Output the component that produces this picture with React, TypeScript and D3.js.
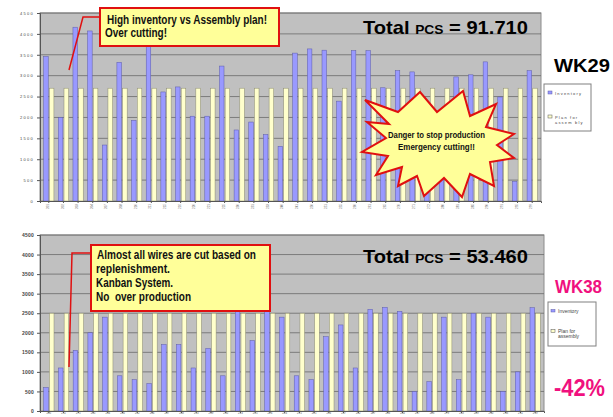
import React, { useRef, useEffect } from "react";
import * as d3 from "d3";

const FONT = "'Liberation Sans', Arial, sans-serif";

// WK29 - part numbers (unreadable in source, short codes)
const categoriesWk29 = [
  "201", "202", "203", "204", "207", "208", "210", "211", "215", "216",
  "220", "221", "225", "230", "231", "233", "240", "241", "250", "251",
  "255", "260", "261", "265", "270", "271", "272", "280", "281", "285",
  "290", "291", "295", "299",
];
const inventoryWk29 = [
  3460, 2000, 4160, 4070, 1340, 3320, 1930, 3750, 2610, 2730,
  2030, 2030, 3230, 1700, 1890, 1590, 1310, 3540, 3640, 3610,
  2390, 3600, 3600, 2710, 3120, 3090, 2040, 1840, 2970, 3020,
  3330, 2490, 470, 3120,
];
const planWk29 = [
  2700, 2700, 2700, 2700, 2700, 2700, 2700, 2700, 2700, 2700,
  2700, 2700, 2700, 2700, 2700, 2700, 2700, 2700, 2700, 2700,
  2700, 2700, 2700, 2700, 2700, 2700, 2700, 2700, 2700, 2700,
  2700, 2700, 2700, 2700,
];

// WK38
const categoriesWk38 = [
  "285", "211", "275", "235", "214", "286", "212", "236", "287", "288",
  "213", "289", "280", "223", "225", "226", "224", "215", "281", "216",
  "237", "282", "227", "283", "284", "217", "228", "279", "218", "229",
  "230", "238", "231", "219",
];
const inventoryWk38 = [
  600, 1100, 1550, 2000, 2400, 900, 800, 700, 1700, 1700,
  1100, 1600, 900, 2650, 1800, 2700, 2400, 900, 800, 1900,
  2200, 1100, 2600, 2650, 2550, 500, 750, 2400, 800, 2500,
  2400, 500, 1000, 2640,
];
const planWk38 = [
  2500, 2500, 2500, 2500, 2500, 2500, 2500, 2500, 2500, 2500,
  2500, 2500, 2500, 2500, 2500, 2500, 2500, 2500, 2500, 2500,
  2500, 2500, 2500, 2500, 2500, 2500, 2500, 2500, 2500, 2500,
  2500, 2500, 2500, 2500,
];

const yTicks = [0, 500, 1000, 1500, 2000, 2500, 3000, 3500, 4000, 4500];
const seriesNames = ["Inventory", "Plan for assembly"];
const seriesColors = ["#9999ff", "#ffffcc"];
const seriesStrokes = ["#5c5ca8", "#8a8a70"];

// star annotation outline
const starPoints: [number, number][] = [
  [365, 100], [398, 112], [420, 92], [437, 112], [463, 91], [470, 116],
  [496, 104], [486, 127], [514, 134], [497, 145], [514, 158], [490, 162],
  [494, 186], [470, 174], [462, 197], [444, 178], [424, 196], [417, 176],
  [398, 186], [402, 167], [376, 175], [388, 156], [362, 152], [386, 138],
  [367, 122], [389, 124],
];

function drawChart(g, opts) {
  const { categories, inventory, plan, left, right, top, bottom, spaced } = opts;
  const rows = categories.map((c, i) => ({ c, vals: [inventory[i], plan[i]] }));

  const x0 = d3.scaleBand().domain(categories).range([left, right]).paddingInner(0.3).paddingOuter(0.25);
  const x1 = d3.scaleBand().domain(["0", "1"]).range([0, x0.bandwidth()]).paddingInner(0.2);
  const y = d3.scaleLinear().domain([0, 4500]).range([bottom, top]);

  g.append("rect")
    .attr("x", left).attr("y", top)
    .attr("width", right - left).attr("height", bottom - top)
    .attr("fill", "#c0c0c0").attr("stroke", "#8c8c8c").attr("stroke-width", 1);

  g.selectAll(".grid").data(yTicks.filter((t) => t > 0)).enter()
    .append("line")
    .attr("x1", left).attr("x2", right)
    .attr("y1", (d) => y(d)).attr("y2", (d) => y(d))
    .attr("stroke", "#6a6a6a").attr("stroke-width", 0.8);

  const grp = g.selectAll(".grp").data(rows).enter()
    .append("g").attr("transform", (d) => `translate(${x0(d.c)},0)`);
  grp.selectAll("rect").data((d) => d.vals).enter()
    .append("rect")
    .attr("x", (d, i) => x1(String(i)))
    .attr("width", x1.bandwidth())
    .attr("y", (d) => y(d))
    .attr("height", (d) => bottom - y(d))
    .attr("fill", (d, i) => seriesColors[i])
    .attr("stroke", (d, i) => seriesStrokes[i])
    .attr("stroke-width", 0.5);

  // axes
  const yAxis = d3.axisLeft(y).tickValues(yTicks).tickFormat(d3.format("d")).tickSize(3).tickPadding(3);
  const ya = g.append("g").attr("transform", `translate(${left},0)`).call(yAxis);
  ya.select(".domain").attr("stroke", "#555");
  ya.selectAll(".tick line").attr("stroke", "#555");
  ya.selectAll("text")
    .attr("font-family", FONT)
    .attr("font-size", spaced ? 4 : 5)
    .attr("font-weight", spaced ? "normal" : "bold")
    .attr("letter-spacing", spaced ? 1.3 : 0.2)
    .attr("fill", "#444");

  const xAxis = d3.axisBottom(x0).tickSize(2).tickPadding(1);
  const xa = g.append("g").attr("transform", `translate(0,${bottom})`).call(xAxis);
  xa.select(".domain").attr("stroke", "#555");
  xa.selectAll(".tick line").attr("stroke", "#555");
  if (spaced) {
    xa.selectAll("text")
      .attr("font-family", FONT).attr("font-size", 3).attr("fill", "#666")
      .attr("transform", "rotate(-90)").attr("text-anchor", "end")
      .attr("x", -3).attr("y", -1).attr("dy", "0.35em");
  } else {
    xa.selectAll("text")
      .attr("font-family", FONT).attr("font-size", 2.8).attr("fill", "#555")
      .attr("y", 1.5).attr("dy", "0.71em");
  }
}

export default function App() {
  const topRef = useRef(null);
  const botRef = useRef(null);

  useEffect(() => {
    const gt = d3.select(topRef.current);
    gt.selectAll("*").remove();
    drawChart(gt, {
      categories: categoriesWk29, inventory: inventoryWk29, plan: planWk29,
      left: 40, right: 541, top: 13, bottom: 201, spaced: true,
    });
    const gb = d3.select(botRef.current);
    gb.selectAll("*").remove();
    drawChart(gb, {
      categories: categoriesWk38, inventory: inventoryWk38, plan: planWk38,
      left: 40, right: 544, top: 235, bottom: 411, spaced: false,
    });
  }, []);

  const redBox = { fill: "#ffff99", stroke: "#e01010", strokeWidth: 2 };
  const calloutText = { fontFamily: FONT, fontWeight: "bold", fontSize: 12, fill: "#111" };

  return (
    <svg width={613} height={417} style={{ position: "absolute", left: 0, top: 0, background: "#fff" }}>
      <g ref={topRef} />
      <g ref={botRef} />

      {/* totals */}
      <text x={363} y={34} fontFamily={FONT} fontWeight="bold" fill="#000" textLength={165} lengthAdjust="spacingAndGlyphs">
        <tspan fontSize={19}>Total </tspan>
        <tspan fontSize={13}>PCS</tspan>
        <tspan fontSize={19}> = 91.710</tspan>
      </text>
      <text x={363} y={263} fontFamily={FONT} fontWeight="bold" fill="#000" textLength={165} lengthAdjust="spacingAndGlyphs">
        <tspan fontSize={19}>Total </tspan>
        <tspan fontSize={13}>PCS</tspan>
        <tspan fontSize={19}> = 53.460</tspan>
      </text>

      {/* top callout */}
      <polyline points="99,17 83,17 69,70" fill="none" stroke="#e01010" strokeWidth={1.5} />
      <rect x={100} y={8} width={179} height={38} {...redBox} />
      <text x={107} y={24} {...calloutText} textLength={160} lengthAdjust="spacingAndGlyphs">High inventory vs Assembly plan!</text>
      <text x={105} y={37} {...calloutText} textLength={62} lengthAdjust="spacingAndGlyphs">Over cutting!</text>

      {/* bottom callout */}
      <polyline points="91,253 72,253 69,367" fill="none" stroke="#e01010" strokeWidth={1.5} />
      <rect x={91} y={245} width={179} height={66} {...redBox} />
      <text x={97} y={259} {...calloutText} textLength={159} lengthAdjust="spacingAndGlyphs">Almost all wires are cut based on</text>
      <text x={96} y={273} {...calloutText} textLength={74} lengthAdjust="spacingAndGlyphs">replenishment.</text>
      <text x={96} y={287} {...calloutText} textLength={77} lengthAdjust="spacingAndGlyphs">Kanban System.</text>
      <text x={96} y={301} {...calloutText} textLength={95} lengthAdjust="spacingAndGlyphs">{"No\u00a0 over production"}</text>

      {/* star */}
      <polygon points={starPoints.map((p) => p.join(",")).join(" ")} fill="#ffff99" stroke="#e01010" strokeWidth={2} strokeLinejoin="miter" />
      <text x={388} y={138} fontFamily={FONT} fontWeight="bold" fontSize={9} fill="#111" textLength={97} lengthAdjust="spacingAndGlyphs">Danger to stop production</text>
      <text x={398} y={150} fontFamily={FONT} fontWeight="bold" fontSize={9} fill="#111" textLength={77} lengthAdjust="spacingAndGlyphs">Emergency cutting!!</text>

      {/* week labels */}
      <text x={554} y={72} fontFamily={FONT} fontWeight="bold" fontSize={19} fill="#000" textLength={56} lengthAdjust="spacingAndGlyphs">WK29</text>
      <text x={555} y={293} fontFamily={FONT} fontWeight="bold" fontSize={18} fill="#f0107e" textLength={47} lengthAdjust="spacingAndGlyphs">WK38</text>
      <text x={554} y={396} fontFamily={FONT} fontWeight="bold" fontSize={24} fill="#f0107e" textLength={51} lengthAdjust="spacingAndGlyphs">-42%</text>

      {/* legend WK29 */}
      <rect x={544} y={84} width={47} height={47} fill="#fff" stroke="#808080" strokeWidth={1} />
      <rect x={548} y={91} width={4} height={3} fill={seriesColors[0]} stroke={seriesStrokes[0]} strokeWidth={0.5} />
      <text x={555} y={94.5} fontFamily={FONT} fontSize={4} letterSpacing={1.2} fill="#444">{seriesNames[0]}</text>
      <rect x={548} y={115} width={4} height={3} fill={seriesColors[1]} stroke="#555" strokeWidth={0.5} />
      <text x={555} y={118.5} fontFamily={FONT} fontSize={4} letterSpacing={1.2} fill="#444">Plan for</text>
      <text x={555} y={124} fontFamily={FONT} fontSize={4} letterSpacing={1.2} fill="#444">assem bly</text>

      {/* legend WK38 */}
      <rect x={548} y={302} width={48} height={44} fill="#fff" stroke="#808080" strokeWidth={1} />
      <rect x={551} y={309.5} width={4} height={2.5} fill={seriesColors[0]} stroke={seriesStrokes[0]} strokeWidth={0.5} />
      <text x={558} y={312.5} fontFamily={FONT} fontSize={5} fill="#444">{seriesNames[0]}</text>
      <rect x={551} y={329.5} width={4} height={3} fill={seriesColors[1]} stroke="#555" strokeWidth={0.5} />
      <text x={558} y={332.5} fontFamily={FONT} fontSize={5} fill="#444">Plan for</text>
      <text x={558} y={338} fontFamily={FONT} fontSize={5} fill="#444">assembly</text>
    </svg>
  );
}
